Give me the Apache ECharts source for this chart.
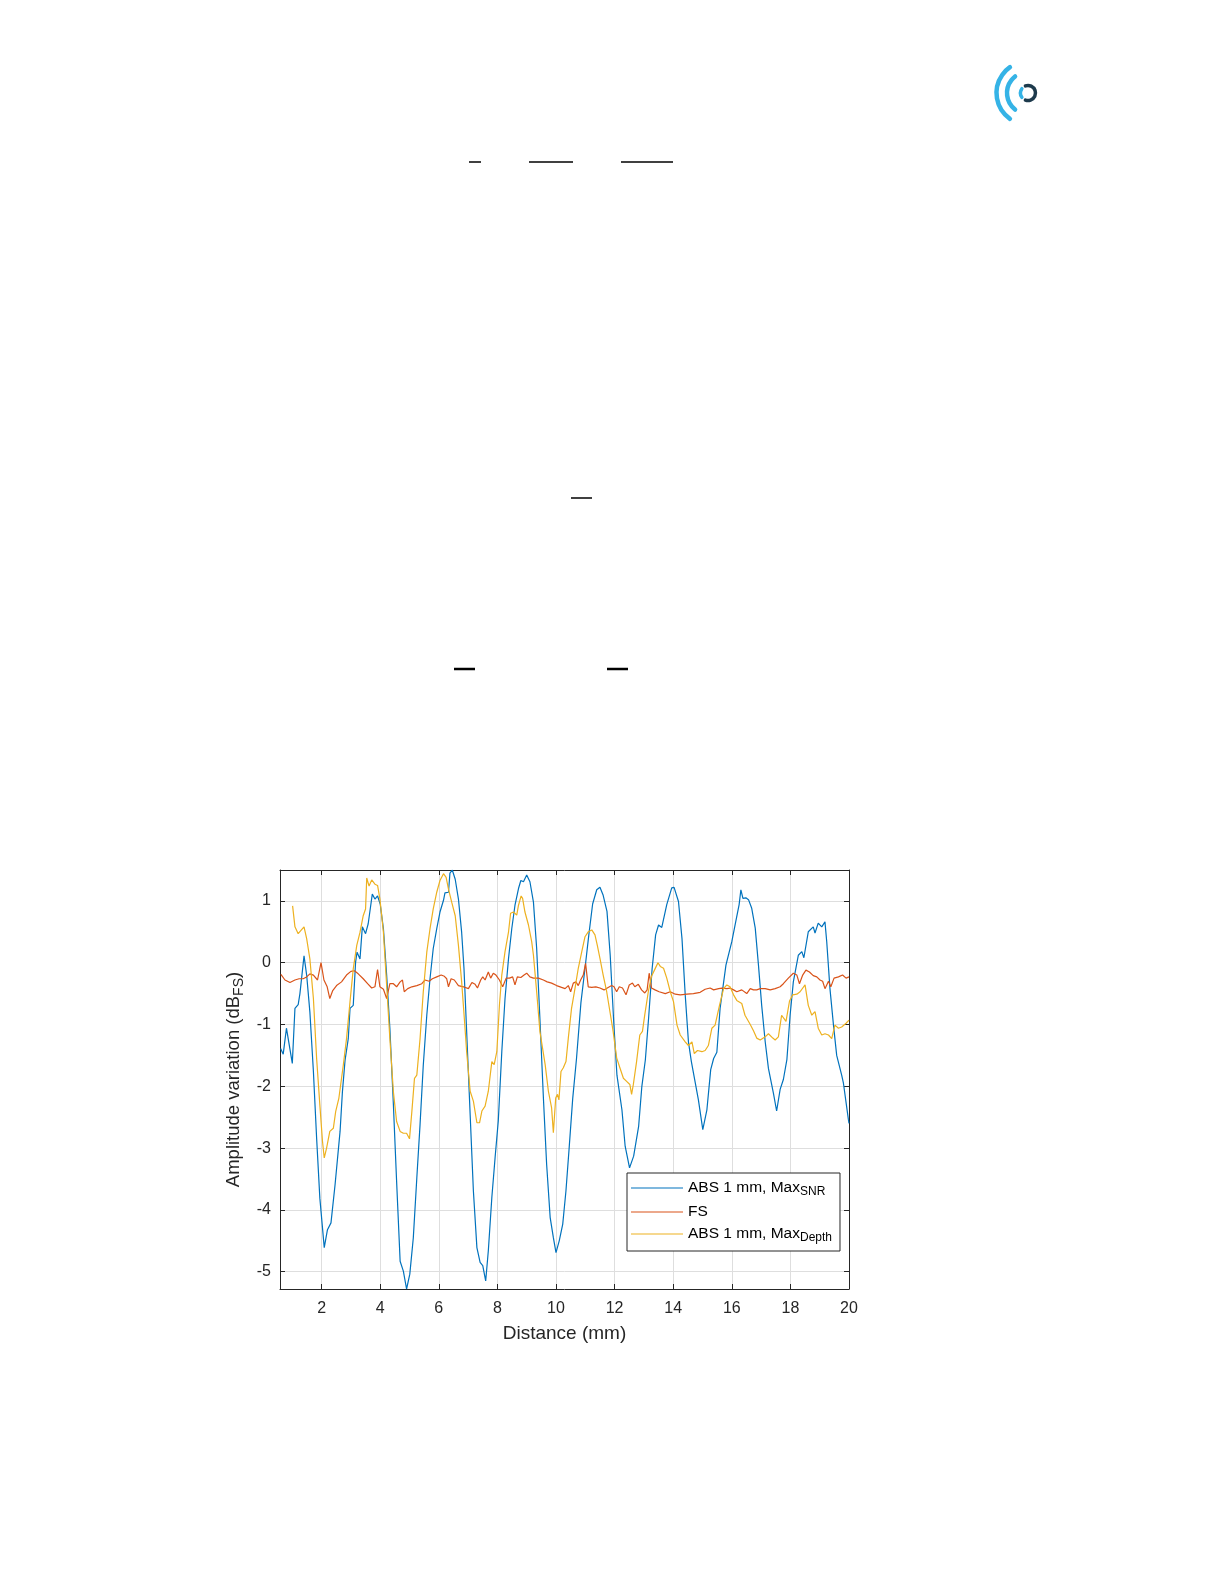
<!DOCTYPE html>
<html>
<head>
<meta charset="utf-8">
<script src="https://cdn.jsdelivr.net/npm/echarts@6/dist/echarts.min.js"></script>
<style>
html,body{margin:0;padding:0;background:#fff;}
#chart{width:1224px;height:1584px;}
</style>
</head>
<body>
<div id="chart"></div>
<script>
// ---- data ----
const xTickValues = [2, 4, 6, 8, 10, 12, 14, 16, 18, 20];
const yTickValues = [-5, -4, -3, -2, -1, 0, 1];
const seriesNames = ['ABS 1 mm, Max_SNR', 'FS', 'ABS 1 mm, Max_Depth'];

const snrX = [0.60,0.69,0.80,1.00,1.09,1.20,1.26,1.40,1.49,1.60,1.72,1.83,1.94,2.09,2.20,2.32,2.46,2.63,2.71,2.80,2.91,2.97,3.08,3.16,3.21,3.31,3.39,3.50,3.59,3.73,3.82,3.91,4.00,4.11,4.22,4.33,4.45,4.56,4.68,4.79,4.90,5.01,5.13,5.25,5.36,5.47,5.59,5.70,5.81,5.93,6.04,6.16,6.21,6.33,6.38,6.46,6.56,6.67,6.78,6.86,6.95,7.07,7.18,7.30,7.41,7.50,7.60,7.69,7.81,7.92,8.03,8.15,8.26,8.38,8.49,8.60,8.72,8.80,8.89,9.00,9.11,9.23,9.34,9.45,9.57,9.68,9.80,9.91,10.00,10.11,10.23,10.34,10.45,10.57,10.70,10.85,11.00,11.12,11.25,11.39,11.50,11.61,11.74,11.85,11.97,12.08,12.25,12.36,12.51,12.65,12.82,12.93,13.05,13.16,13.28,13.40,13.50,13.61,13.78,13.95,14.03,14.18,14.30,14.41,14.52,14.62,14.86,15.01,15.15,15.28,15.38,15.49,15.60,15.80,16.00,16.17,16.25,16.31,16.38,16.48,16.57,16.68,16.80,16.91,17.02,17.14,17.25,17.42,17.53,17.65,17.76,17.88,17.99,18.10,18.27,18.39,18.46,18.61,18.78,18.84,18.95,19.07,19.18,19.24,19.35,19.47,19.58,19.75,19.81,19.98,20.00];
const snrY = [-1.39,-1.48,-1.06,-1.63,-0.74,-0.68,-0.50,0.11,-0.20,-0.80,-1.76,-2.84,-3.81,-4.61,-4.32,-4.21,-3.59,-2.73,-2.09,-1.58,-1.23,-0.74,-0.69,0.01,0.17,0.06,0.58,0.47,0.63,1.11,1.03,1.08,0.95,0.55,-0.20,-1.06,-2.30,-3.54,-4.83,-4.99,-5.28,-5.04,-4.45,-3.48,-2.62,-1.66,-0.85,-0.26,0.23,0.55,0.82,1.01,1.13,1.14,1.45,1.50,1.35,1.03,0.49,-0.10,-1.11,-2.46,-3.69,-4.61,-4.85,-4.90,-5.15,-4.66,-3.80,-3.16,-2.56,-1.44,-0.58,0.07,0.55,0.93,1.20,1.33,1.31,1.42,1.31,0.98,0.23,-0.90,-2.19,-3.26,-4.12,-4.45,-4.69,-4.50,-4.23,-3.69,-2.99,-2.20,-1.55,-0.65,-0.05,0.45,0.95,1.18,1.22,1.09,0.83,0.12,-0.96,-1.82,-2.38,-2.97,-3.32,-3.13,-2.65,-2.00,-1.57,-0.90,-0.10,0.45,0.61,0.57,0.94,1.21,1.22,0.99,0.39,-0.52,-1.28,-1.60,-2.22,-2.70,-2.38,-1.73,-1.55,-1.45,-0.74,-0.04,0.34,0.75,0.94,1.18,1.04,1.05,1.02,0.88,0.56,-0.04,-0.69,-1.28,-1.71,-2.11,-2.40,-2.05,-1.89,-1.57,-0.85,-0.31,0.12,0.18,0.08,0.50,0.58,0.48,0.64,0.58,0.66,0.34,-0.42,-1.01,-1.50,-1.82,-1.95,-2.54,-2.60];

const fsX = [0.61,0.75,0.92,1.09,1.23,1.37,1.49,1.60,1.72,1.86,1.98,2.08,2.19,2.28,2.38,2.51,2.68,2.85,3.00,3.12,3.25,3.42,3.57,3.71,3.82,3.91,3.99,4.11,4.22,4.33,4.45,4.56,4.68,4.76,4.82,4.94,5.08,5.25,5.42,5.53,5.67,5.78,5.93,6.08,6.19,6.27,6.33,6.42,6.53,6.67,6.84,7.01,7.13,7.24,7.32,7.43,7.50,7.58,7.69,7.77,7.86,7.95,8.07,8.18,8.30,8.41,8.52,8.60,8.68,8.80,8.91,9.00,9.11,9.23,9.40,9.57,9.70,9.85,10.02,10.19,10.31,10.42,10.50,10.59,10.68,10.76,10.84,10.93,11.01,11.10,11.22,11.36,11.50,11.64,11.78,11.90,11.98,12.07,12.16,12.27,12.39,12.50,12.61,12.69,12.81,12.92,13.03,13.11,13.18,13.26,13.38,13.52,13.73,13.90,14.07,14.24,14.47,14.69,14.92,15.09,15.26,15.38,15.55,15.66,15.83,15.94,16.06,16.17,16.34,16.51,16.63,16.74,16.85,16.97,17.14,17.31,17.48,17.65,17.76,17.93,18.10,18.22,18.31,18.42,18.53,18.65,18.78,18.90,19.01,19.10,19.18,19.30,19.38,19.49,19.64,19.78,19.90,20.00];
const fsY = [-0.19,-0.28,-0.32,-0.28,-0.26,-0.26,-0.23,-0.18,-0.20,-0.28,0.00,-0.28,-0.39,-0.58,-0.45,-0.37,-0.31,-0.20,-0.14,-0.13,-0.18,-0.26,-0.34,-0.41,-0.39,-0.11,-0.39,-0.43,-0.58,-0.34,-0.34,-0.39,-0.31,-0.28,-0.47,-0.42,-0.39,-0.37,-0.34,-0.28,-0.30,-0.26,-0.23,-0.20,-0.22,-0.26,-0.39,-0.26,-0.28,-0.37,-0.39,-0.42,-0.32,-0.35,-0.41,-0.28,-0.23,-0.28,-0.15,-0.25,-0.17,-0.20,-0.28,-0.39,-0.25,-0.25,-0.23,-0.36,-0.23,-0.24,-0.20,-0.17,-0.23,-0.25,-0.25,-0.28,-0.31,-0.33,-0.37,-0.40,-0.42,-0.37,-0.47,-0.33,-0.31,-0.37,-0.28,-0.20,-0.01,-0.39,-0.40,-0.39,-0.41,-0.44,-0.40,-0.37,-0.39,-0.47,-0.39,-0.41,-0.52,-0.36,-0.33,-0.39,-0.35,-0.44,-0.49,-0.44,-0.17,-0.41,-0.44,-0.47,-0.50,-0.47,-0.51,-0.52,-0.51,-0.50,-0.48,-0.43,-0.41,-0.44,-0.42,-0.41,-0.42,-0.41,-0.44,-0.47,-0.44,-0.50,-0.42,-0.44,-0.44,-0.42,-0.42,-0.44,-0.42,-0.39,-0.34,-0.25,-0.17,-0.20,-0.34,-0.20,-0.12,-0.15,-0.21,-0.23,-0.28,-0.30,-0.42,-0.30,-0.39,-0.25,-0.23,-0.20,-0.25,-0.23];

const depthX = [1.01,1.09,1.20,1.40,1.49,1.60,1.72,1.83,1.94,2.03,2.09,2.17,2.28,2.40,2.48,2.59,2.74,2.85,2.97,3.08,3.20,3.31,3.42,3.50,3.54,3.62,3.71,3.82,3.91,3.99,4.11,4.22,4.33,4.45,4.56,4.68,4.79,4.90,5.00,5.08,5.17,5.25,5.36,5.47,5.59,5.70,5.81,5.93,6.04,6.16,6.25,6.33,6.44,6.56,6.67,6.78,6.88,6.95,7.07,7.18,7.30,7.39,7.47,7.58,7.69,7.81,7.89,7.98,8.07,8.15,8.26,8.38,8.45,8.55,8.66,8.72,8.81,8.86,8.94,9.06,9.17,9.23,9.34,9.45,9.63,9.74,9.85,9.91,9.99,10.05,10.10,10.17,10.25,10.34,10.42,10.53,10.65,10.76,10.88,10.99,11.10,11.22,11.33,11.41,11.50,11.61,11.73,11.84,11.95,12.07,12.18,12.30,12.41,12.52,12.58,12.64,12.75,12.86,12.95,13.03,13.15,13.26,13.38,13.48,13.56,13.67,13.78,13.90,14.01,14.13,14.24,14.41,14.52,14.64,14.72,14.83,14.98,15.09,15.20,15.32,15.43,15.58,15.72,15.83,15.94,16.06,16.17,16.34,16.45,16.63,16.74,16.85,16.97,17.14,17.25,17.40,17.48,17.59,17.70,17.85,17.97,18.08,18.22,18.33,18.50,18.61,18.73,18.84,18.95,19.07,19.18,19.30,19.41,19.52,19.64,19.75,19.90,20.00];
const depthY = [0.92,0.58,0.47,0.58,0.39,0.06,-0.58,-1.55,-2.30,-2.89,-3.16,-3.00,-2.73,-2.68,-2.41,-2.19,-1.66,-1.23,-0.63,-0.10,0.28,0.49,0.76,0.87,1.37,1.24,1.34,1.27,1.25,1.03,0.49,-0.37,-1.23,-2.09,-2.57,-2.73,-2.76,-2.76,-2.85,-2.41,-1.87,-1.82,-1.23,-0.47,0.17,0.55,0.87,1.14,1.33,1.44,1.38,1.19,0.98,0.76,0.28,-0.31,-0.96,-1.44,-2.08,-2.24,-2.59,-2.59,-2.40,-2.32,-2.08,-1.60,-1.65,-1.44,-0.68,-0.20,0.18,0.50,0.80,0.82,0.77,0.93,1.08,1.04,0.82,0.61,0.34,0.12,-0.47,-1.11,-1.65,-2.08,-2.35,-2.75,-2.19,-2.13,-2.22,-1.76,-1.70,-1.60,-1.22,-0.74,-0.41,-0.09,0.18,0.42,0.50,0.53,0.45,0.28,0.07,-0.20,-0.47,-0.79,-1.11,-1.54,-1.70,-1.87,-1.92,-1.97,-2.13,-1.97,-1.60,-1.17,-1.11,-0.84,-0.47,-0.22,-0.10,0.00,-0.06,-0.09,-0.25,-0.47,-0.63,-1.01,-1.17,-1.28,-1.34,-1.28,-1.47,-1.42,-1.44,-1.42,-1.34,-1.06,-1.01,-0.69,-0.42,-0.36,-0.39,-0.52,-0.61,-0.66,-0.85,-1.00,-1.10,-1.22,-1.25,-1.20,-1.15,-1.22,-1.25,-1.20,-0.85,-0.95,-0.62,-0.52,-0.51,-0.47,-0.36,-0.69,-0.85,-0.79,-1.06,-1.17,-1.15,-1.17,-1.23,-1.01,-1.06,-1.04,-0.98,-0.93];

const xMin = 0.58, xMax = 20, yMin = -5.28, yMax = 1.5;

function pairs(xs, ys) { return xs.map((x, i) => [x, ys[i]]); }

const chart = echarts.init(document.getElementById('chart'), null, {renderer: 'canvas'});
const FONT = 'Liberation Sans, Arial, Helvetica, sans-serif';
const AX = '#262626';
const GRID = '#dedede';

function legendRich(name) {
  const parts = name.split('_');
  if (parts.length === 1) return '{n|' + name + '}';
  return '{n|' + parts[0] + '}{s|' + parts[1] + '}';
}

const option = {
  animation: false,
  backgroundColor: '#ffffff',
  textStyle: {fontFamily: FONT},
  grid: {left: 280, top: 870, width: 569, height: 419, containLabel: false},
  legend: {
    orient: 'vertical', left: 627, top: 1173,
    backgroundColor: '#ffffff', borderColor: '#262626', borderWidth: 1,
    padding: [7, 8, 7, 4], itemGap: 6, itemWidth: 52, itemHeight: 1.2,
    icon: 'rect',
    selectedMode: false,
    data: seriesNames,
    formatter: legendRich,
    textStyle: {
      color: '#000', fontFamily: FONT, padding: [0, 0, 0, 0],
      rich: {
        n: {fontSize: 15.5, lineHeight: 20, color: '#000', fontFamily: FONT},
        s: {fontSize: 12, lineHeight: 6, verticalAlign: 'bottom', color: '#000', fontFamily: FONT}
      }
    }
  },
  xAxis: [{
    type: 'value', min: xMin, max: xMax, position: 'bottom',
    name: 'Distance (mm)', nameLocation: 'middle', nameGap: 35,
    nameTextStyle: {fontSize: 19, color: AX, fontFamily: FONT},
    axisLine: {show: true, onZero: false, lineStyle: {color: AX, width: 1}},
    axisTick: {show: true, inside: true, length: 5, customValues: xTickValues, lineStyle: {color: AX}},
    axisLabel: {show: true, customValues: xTickValues, margin: 12, fontSize: 16, color: AX, fontFamily: FONT},
    splitLine: {show: true, lineStyle: {color: GRID, width: 1}}
  }, {
    type: 'value', min: xMin, max: xMax, position: 'top',
    axisLine: {show: true, onZero: false, lineStyle: {color: AX, width: 1}},
    axisTick: {show: true, inside: true, length: 5, customValues: xTickValues, lineStyle: {color: AX}},
    axisLabel: {show: false}, splitLine: {show: false}
  }],
  yAxis: [{
    type: 'value', min: yMin, max: yMax, position: 'left',
    name: '{a|Amplitude variation (dB}{s|FS}{a|)}', nameLocation: 'middle', nameGap: 34, nameRotate: 90,
    nameTextStyle: {
      color: AX, fontFamily: FONT,
      rich: {
        a: {fontSize: 18.5, lineHeight: 24, color: AX, fontFamily: FONT},
        s: {fontSize: 14, lineHeight: 8, verticalAlign: 'bottom', color: AX, fontFamily: FONT}
      }
    },
    axisLine: {show: true, onZero: false, lineStyle: {color: AX, width: 1}},
    axisTick: {show: true, inside: true, length: 5, customValues: yTickValues, lineStyle: {color: AX}},
    axisLabel: {show: true, customValues: yTickValues, margin: 9, fontSize: 16, color: AX, fontFamily: FONT},
    splitLine: {show: true, lineStyle: {color: GRID, width: 1}}
  }, {
    type: 'value', min: yMin, max: yMax, position: 'right',
    axisLine: {show: true, onZero: false, lineStyle: {color: AX, width: 1}},
    axisTick: {show: true, inside: true, length: 5, customValues: yTickValues, lineStyle: {color: AX}},
    axisLabel: {show: false}, splitLine: {show: false}
  }],
  series: [
    {name: seriesNames[0], type: 'line', xAxisIndex: 0, yAxisIndex: 0, data: pairs(snrX, snrY),
     symbol: 'none', showSymbol: false, clip: true, lineStyle: {color: '#0072BD', width: 1.2}, itemStyle: {color: '#0072BD'}, z: 3},
    {name: seriesNames[1], type: 'line', xAxisIndex: 0, yAxisIndex: 0, data: pairs(fsX, fsY),
     symbol: 'none', showSymbol: false, clip: true, lineStyle: {color: '#D95319', width: 1.2}, itemStyle: {color: '#D95319'}, z: 4},
    {name: seriesNames[2], type: 'line', xAxisIndex: 0, yAxisIndex: 0, data: pairs(depthX, depthY),
     symbol: 'none', showSymbol: false, clip: true, lineStyle: {color: '#EDB120', width: 1.2}, itemStyle: {color: '#EDB120'}, z: 5}
  ],
  graphic: [
    // logo
    {type: 'arc', shape: {cx: 1028, cy: 93, r: 31.5, startAngle: 125 * Math.PI / 180, endAngle: 235 * Math.PI / 180, clockwise: true},
     style: {stroke: '#35b3e6', lineWidth: 4.5, fill: null, lineCap: 'round'}},
    {type: 'arc', shape: {cx: 1028, cy: 93, r: 21, startAngle: 128 * Math.PI / 180, endAngle: 232 * Math.PI / 180, clockwise: true},
     style: {stroke: '#35b3e6', lineWidth: 4.5, fill: null, lineCap: 'round'}},
    {type: 'arc', shape: {cx: 1028, cy: 93, r: 7.5, startAngle: 145 * Math.PI / 180, endAngle: 215 * Math.PI / 180, clockwise: true},
     style: {stroke: '#35b3e6', lineWidth: 3.5, fill: null, lineCap: 'round'}},
    {type: 'arc', shape: {cx: 1028, cy: 93, r: 7.5, startAngle: -110 * Math.PI / 180, endAngle: 110 * Math.PI / 180, clockwise: true},
     style: {stroke: '#1d3a4c', lineWidth: 3.5, fill: null, lineCap: 'round'}},
    // fraction bars of the (blank) equations
    {type: 'line', shape: {x1: 469, y1: 162, x2: 481, y2: 162}, style: {stroke: '#000', lineWidth: 1.5}},
    {type: 'line', shape: {x1: 529, y1: 162, x2: 573, y2: 162}, style: {stroke: '#000', lineWidth: 1.5}},
    {type: 'line', shape: {x1: 621, y1: 162, x2: 673, y2: 162}, style: {stroke: '#000', lineWidth: 1.5}},
    {type: 'line', shape: {x1: 571, y1: 498, x2: 592, y2: 498}, style: {stroke: '#000', lineWidth: 1.5}},
    {type: 'line', shape: {x1: 454, y1: 669, x2: 475, y2: 669}, style: {stroke: '#000', lineWidth: 2.5}},
    {type: 'line', shape: {x1: 607, y1: 669, x2: 628, y2: 669}, style: {stroke: '#000', lineWidth: 2.5}}
  ]
};
chart.setOption(option);
</script>
</body>
</html>
